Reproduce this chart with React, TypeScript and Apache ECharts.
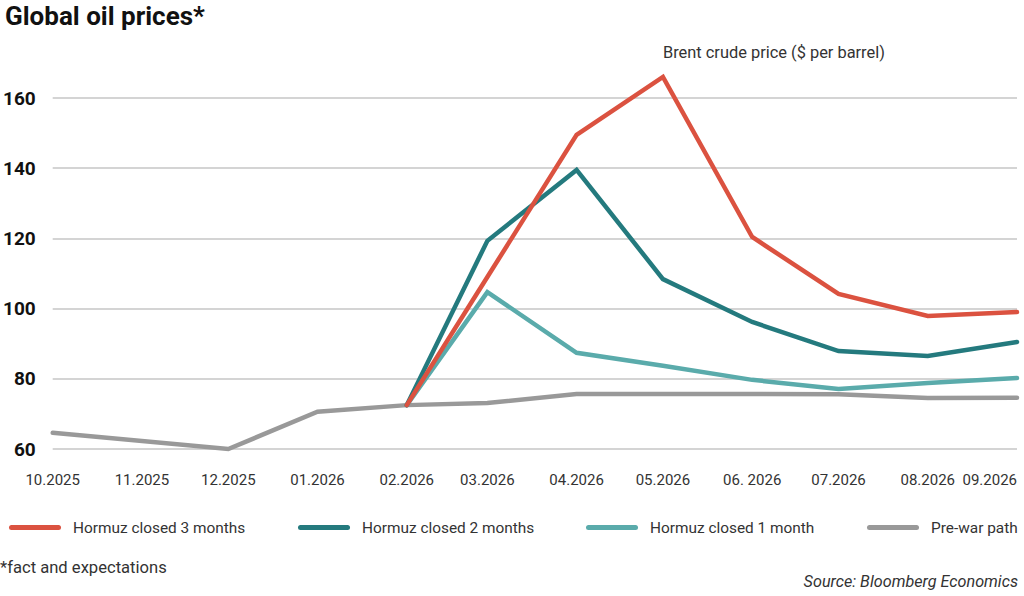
import React, { useEffect, useRef } from "react";
import * as echarts from "echarts";

const monthDates = [
  "2025-10-01", "2025-11-01", "2025-12-01", "2026-01-01", "2026-02-01", "2026-03-01",
  "2026-04-01", "2026-05-01", "2026-06-01", "2026-07-01", "2026-08-01", "2026-09-01",
];
const monthLabels = [
  "10.2025", "11.2025", "12.2025", "01.2026", "02.2026", "03.2026",
  "04.2026", "05.2026", "06. 2026", "07.2026", "08.2026", "09.2026",
];

const scenarioDates = [
  "2026-02-01", "2026-03-01", "2026-04-01", "2026-05-01", "2026-06-01",
  "2026-07-01", "2026-08-01", "2026-09-01",
];
const closed3 = [72.5, 109, 149.5, 166, 120.4, 104.2, 97.9, 99];
const closed2 = [72.5, 119.3, 139.5, 108.4, 96.2, 87.9, 86.5, 90.5];
const closed1 = [72.5, 104.7, 87.4, 83.7, 79.7, 77.1, 78.8, 80.2];

const prewarDates = [
  "2025-10-01", "2025-12-01", "2026-01-01", "2026-02-01", "2026-03-01", "2026-04-01",
  "2026-05-01", "2026-06-01", "2026-07-01", "2026-08-01", "2026-09-01",
];
const prewar = [64.6, 60, 70.6, 72.5, 73.1, 75.7, 75.7, 75.7, 75.6, 74.5, 74.6];

const seriesNames = [
  "Hormuz closed 3 months",
  "Hormuz closed 2 months",
  "Hormuz closed 1 month",
  "Pre-war path",
];
const colors = ["#db5240", "#247a7e", "#5aabab", "#999999"];

const FONT = "Roboto";

// day offset from the first month (calendar position on the axis)
const dayOf = (s: string) => {
  const [y, m, d] = s.split("-").map(Number);
  const [y0, m0, d0] = monthDates[0].split("-").map(Number);
  return Math.round((Date.UTC(y, m - 1, d) - Date.UTC(y0, m0 - 1, d0)) / 86400000);
};

export default function App() {
  const ref = useRef<HTMLDivElement>(null);

  useEffect(() => {
    if (!ref.current) return;
    const chart = echarts.init(ref.current, null, { renderer: "svg" });
    const labelMap: Record<number, string> = {};
    monthDates.forEach((d, i) => (labelMap[dayOf(d)] = monthLabels[i]));

    const pair = (dates: string[], vals: number[]) => dates.map((d, i) => [dayOf(d), vals[i]]);
    const allData = [
      pair(scenarioDates, closed3),
      pair(scenarioDates, closed2),
      pair(scenarioDates, closed1),
      pair(prewarDates, prewar),
    ];
    const legendLefts = [4, 293, 581, 862];
    const icon =
      "path://M2.5,0 H49.5 A2.5,2.5 0 0 1 49.5,5 H2.5 A2.5,2.5 0 0 1 2.5,0 Z";

    chart.setOption({
      animation: false,
      textStyle: { fontFamily: FONT },
      grid: { left: 52, right: 7, top: 98, bottom: 147 },
      xAxis: {
        type: "value",
        min: dayOf(monthDates[0]),
        max: dayOf(monthDates[monthDates.length - 1]),
        axisLine: { show: false },
        axisTick: { show: false },
        splitLine: { show: false },
        axisLabel: {
          customValues: monthDates.map(dayOf),
          formatter: (v: number) => labelMap[Math.round(v)] ?? "",
          color: "#333",
          fontSize: 15,
          fontFamily: FONT,
          margin: 23,
          alignMaxLabel: "right",
          hideOverlap: false,
        },
      },
      yAxis: {
        type: "value",
        min: 60,
        max: 160,
        interval: 20,
        axisLine: { show: false },
        axisTick: { show: false },
        splitLine: { lineStyle: { color: "#c6c6c6", width: 1.5 } },
        axisLabel: {
          color: "#111",
          fontSize: 19,
          fontWeight: "bold",
          fontFamily: FONT,
          margin: 17,
        },
      },
      legend: seriesNames.map((n, i) => ({
        data: [n],
        left: legendLefts[i],
        top: 515,
        icon,
        itemWidth: 52,
        itemHeight: 5,
        itemGap: 0,
        textStyle: {
          color: "#333",
          fontSize: 15.4,
          fontFamily: FONT,
          padding: [0, 0, 0, 7],
        },
      })),
      series: seriesNames
        .map((n, i) => ({
          name: n,
          type: "line",
          data: allData[i],
          symbol: "none",
          clip: false,
          z: 10 - i,
          lineStyle: { color: colors[i], width: 4.5, join: "miter", cap: "round" },
          itemStyle: { color: colors[i] },
        }))
        .reverse(),
      graphic: [
        {
          type: "text",
          left: 5,
          top: 3,
          style: {
            text: "Global oil prices*",
            font: `bold 26px ${FONT}`,
            fill: "#111",
          },
        },
        {
          type: "text",
          left: 663,
          top: 44,
          style: {
            text: "Brent crude price ($ per barrel)",
            font: `16.4px ${FONT}`,
            fill: "#333",
          },
        },
        {
          type: "text",
          left: 0,
          top: 559,
          style: {
            text: "*fact and expectations",
            font: `16.6px ${FONT}`,
            fill: "#333",
          },
        },
        {
          type: "text",
          right: 6,
          top: 573,
          style: {
            text: "Source: Bloomberg Economics",
            font: `italic 16.2px ${FONT}`,
            fill: "#333",
          },
        },
      ],
    });
    return () => chart.dispose();
  }, []);

  return (
    <div
      ref={ref}
      style={{ position: "absolute", left: 0, top: 0, width: 1024, height: 596 }}
    />
  );
}
